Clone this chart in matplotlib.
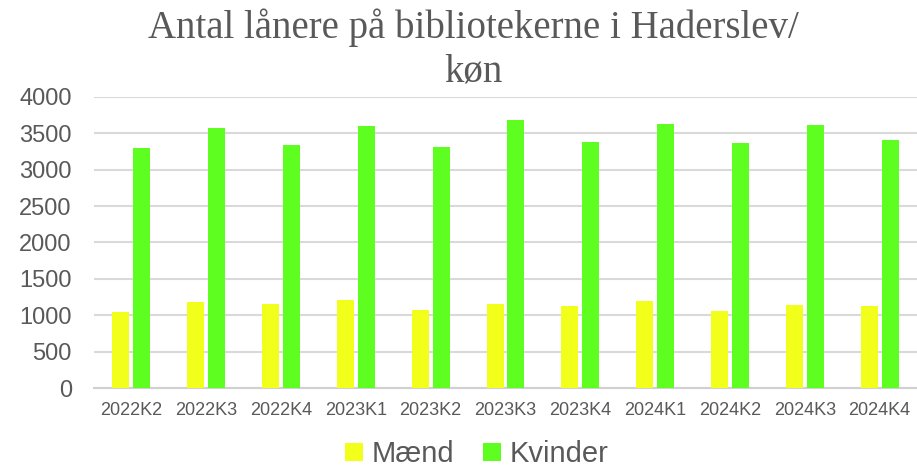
import matplotlib
matplotlib.use("Agg")
import matplotlib.pyplot as plt
import numpy as np

categories = ["2022K2", "2022K3", "2022K4", "2023K1", "2023K2", "2023K3",
              "2023K4", "2024K1", "2024K2", "2024K3", "2024K4"]
maend = [1047, 1179, 1157, 1211, 1074, 1157, 1125, 1198, 1061, 1134, 1129]
kvinder = [3305, 3575, 3342, 3598, 3310, 3680, 3378, 3634, 3369, 3611, 3415]
yticks = [0, 500, 1000, 1500, 2000, 2500, 3000, 3500, 4000]

fig = plt.figure(figsize=(9.17, 4.73), dpi=100)
ax = fig.add_axes([0.1025, 0.1797, 0.8975, 0.6153])

x = np.arange(len(categories))
w = 0.227
off = 0.14
txt = "#595959"
ax.bar(x - off, maend, width=w, color="#F2FF1A", label="Mænd", zorder=3)
ax.bar(x + off, kvinder, width=w, color="#5EFF20", label="Kvinder", zorder=3)

ax.set_xlim(-0.5, len(categories) - 0.5)
ax.set_ylim(0, 4000)
ax.set_yticks(yticks)
ax.set_yticklabels([str(v) for v in yticks], fontsize=17, color=txt,
                   family="Liberation Sans")
ax.set_xticks(x)
ax.set_xticklabels(categories, fontsize=13, color=txt, family="Liberation Sans")
ax.tick_params(axis="both", length=0)
ax.tick_params(axis="y", pad=16)
ax.tick_params(axis="x", pad=10)
ax.grid(axis="y", color="#D9D9D9", linewidth=1.5, zorder=0)
for s in ["top", "right", "left"]:
    ax.spines[s].set_visible(False)
ax.spines["bottom"].set_color("#D0D0D0")
ax.spines["bottom"].set_linewidth(1.5)

fig.text(0.516, 0.941, "Antal lånere på bibliotekerne i Haderslev/", ha="center",
         va="center", fontsize=28, color=txt, family="Liberation Serif")
fig.text(0.516, 0.848, "køn", ha="center", va="center", fontsize=28,
         color=txt, family="Liberation Serif")

leg = fig.legend(loc="center", bbox_to_anchor=(0.52, 0.04), ncol=2,
                 frameon=False, prop={"family": "Liberation Sans", "size": 21},
                 handlelength=0.6, handleheight=0.6, handletextpad=0.3,
                 columnspacing=1.0, borderpad=0.1)
for t in leg.get_texts():
    t.set_color(txt)

fig.savefig("out.png", dpi=100)
